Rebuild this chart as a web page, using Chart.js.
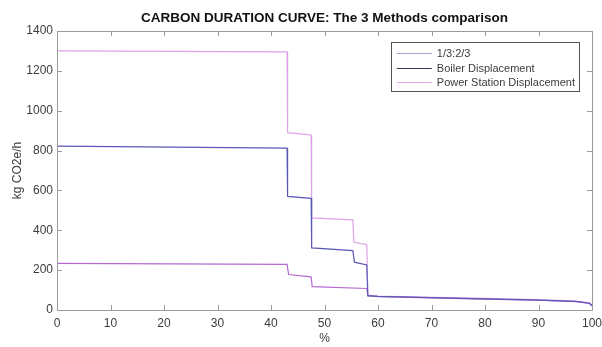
<!DOCTYPE html>
<html>
<head>
<meta charset="utf-8">
<script src="https://cdn.jsdelivr.net/npm/chart.js@4.4.1/dist/chart.umd.min.js"></script>
<style>
html,body{margin:0;padding:0;background:#fff;}
#wrap{width:602px;height:347px;position:relative;}
</style>
</head>
<body>
<div id="wrap"><canvas id="c" width="602" height="347"></canvas></div>
<script>
// ---- data ----
const titleText = 'CARBON DURATION CURVE: The 3 Methods comparison';
const xLabel = '%';
const yLabel = 'kg CO2e/h';
const seriesLabels = ['1/3:2/3', 'Boiler Displacement', 'Power Station Displacement'];

// 1/3:2/3 (middle curve)
const midX = [0, 43, 43.1, 47.5, 47.6, 55.3, 55.6, 57.9, 58.1, 60, 70, 80, 90, 97, 99.5, 100];
const midY = [822, 812, 570, 560, 312, 298, 240, 226, 72, 68, 62, 56, 50, 43, 34, 22];
// Boiler Displacement (lower curve)
const lowX = [0, 43, 43.3, 47.5, 47.7, 57.9, 58.1, 60, 70, 80, 90, 97, 99.5, 100];
const lowY = [234, 229, 178, 166, 117, 108, 70, 67, 61, 55, 49, 42, 33, 20];
// Power Station Displacement (upper curve)
const topX = [0, 43, 43.1, 47.5, 47.6, 55.3, 55.5, 57.9, 58.1, 60, 70, 80, 90, 97, 99.5, 100];
const topY = [1300, 1295, 890, 878, 462, 452, 340, 328, 75, 70, 64, 58, 52, 45, 36, 25];

const xTicks = [0, 10, 20, 30, 40, 50, 60, 70, 80, 90, 100];
const yTicks = [0, 200, 400, 600, 800, 1000, 1200, 1400];

const lineColors = ['#5a58b4', '#b26ad0', '#dca4e6'];
const legendColors = ['#a4a4cc', '#3a3358', '#e6a8e8'];

function pts(xs, ys) { return xs.map((x, i) => ({x: x, y: ys[i]})); }

const FONT = "'Liberation Sans', Arial, Helvetica, sans-serif";
const AXIS = '#9a9a9a';
const TXT = '#3c3c3c';

const boxPlugin = {
  id: 'boxPlugin',
  afterDatasetsDraw(chart) {
    const ctx = chart.ctx, a = chart.chartArea;
    const xs = chart.scales.x, ys = chart.scales.y;
    ctx.save();
    ctx.strokeStyle = AXIS;
    ctx.lineWidth = 1;
    ctx.beginPath();
    ctx.rect(Math.round(a.left) + 0.5, Math.round(a.top) + 0.5, Math.round(a.right - a.left), Math.round(a.bottom - a.top));
    ctx.stroke();
    ctx.beginPath();
    const tl = 5;
    xTicks.forEach(v => {
      const p = Math.round(xs.getPixelForValue(v)) + 0.5;
      ctx.moveTo(p, a.bottom); ctx.lineTo(p, a.bottom - tl);
      ctx.moveTo(p, a.top); ctx.lineTo(p, a.top + tl);
    });
    yTicks.forEach(v => {
      const p = Math.round(ys.getPixelForValue(v)) + 0.5;
      ctx.moveTo(a.left, p); ctx.lineTo(a.left + tl, p);
      ctx.moveTo(a.right, p); ctx.lineTo(a.right - tl, p);
    });
    ctx.stroke();

    // legend box
    ctx.font = '11px ' + FONT;
    const textOff = 46, rowH = 14.5;
    const maxW = Math.max(...seriesLabels.map(s => ctx.measureText(s).width));
    const bw = textOff + maxW + 4;
    const right = a.right - 13;
    const left = right - bw;
    const top = a.top + 11;
    const bh = 49;
    ctx.fillStyle = '#fff';
    ctx.fillRect(left, top, bw, bh);
    ctx.strokeStyle = '#555';
    ctx.strokeRect(Math.round(left) + 0.5, Math.round(top) + 0.5, Math.round(bw), bh);
    seriesLabels.forEach((s, i) => {
      const y = top + 11 + i * rowH;
      ctx.strokeStyle = legendColors[i];
      ctx.beginPath();
      ctx.moveTo(left + 6, Math.round(y) + 0.5);
      ctx.lineTo(left + 41, Math.round(y) + 0.5);
      ctx.stroke();
      ctx.fillStyle = TXT;
      ctx.textBaseline = 'middle';
      ctx.textAlign = 'left';
      ctx.fillText(s, left + textOff, y + 1);
    });
    ctx.restore();
  }
};

new Chart(document.getElementById('c'), {
  type: 'line',
  data: {
    datasets: [
      {label: seriesLabels[0], data: pts(midX, midY), borderColor: lineColors[0], borderWidth: 1.2, pointRadius: 0, fill: false, tension: 0, order: 1},
      {label: seriesLabels[1], data: pts(lowX, lowY), borderColor: lineColors[1], borderWidth: 1.2, pointRadius: 0, fill: false, tension: 0, order: 2},
      {label: seriesLabels[2], data: pts(topX, topY), borderColor: lineColors[2], borderWidth: 1.2, pointRadius: 0, fill: false, tension: 0, order: 3}
    ]
  },
  options: {
    responsive: false,
    animation: false,
    devicePixelRatio: 1,
    layout: {padding: {left: 0, right: 10, top: 0, bottom: 0}},
    plugins: {
      legend: {display: false},
      tooltip: {enabled: false},
      title: {
        display: true, text: titleText, fullSize: false,
        color: '#111',
        font: {family: FONT, size: 13.5, weight: 'bold'},
        padding: {top: 10.5, bottom: 4.3}
      }
    },
    scales: {
      x: {
        type: 'linear', min: 0, max: 100,
        afterFit(s) { s.height = 37; s.paddingLeft = 0; s.paddingRight = 0; },
        afterBuildTicks(s) { s.ticks = xTicks.map(v => ({value: v})); },
        grid: {display: false, drawTicks: false},
        border: {display: false},
        ticks: {color: TXT, font: {family: FONT, size: 12}, padding: 6, maxRotation: 0,
                callback: v => String(v)},
        title: {display: true, text: xLabel, color: TXT, font: {family: FONT, size: 12}, padding: {top: 2, bottom: 1}}
      },
      y: {
        type: 'linear', min: 0, max: 1400,
        afterFit(s) { s.width = 57; s.paddingTop = 0; s.paddingBottom = 0; },
        afterBuildTicks(s) { s.ticks = yTicks.map(v => ({value: v})); },
        grid: {display: false, drawTicks: false},
        border: {display: false},
        ticks: {color: TXT, font: {family: FONT, size: 12}, padding: 4,
                callback: v => String(v)},
        title: {display: true, text: yLabel, color: TXT, font: {family: FONT, size: 12}, padding: {top: 10, bottom: 0}}
      }
    }
  },
  plugins: [boxPlugin]
});
</script>
</body>
</html>
